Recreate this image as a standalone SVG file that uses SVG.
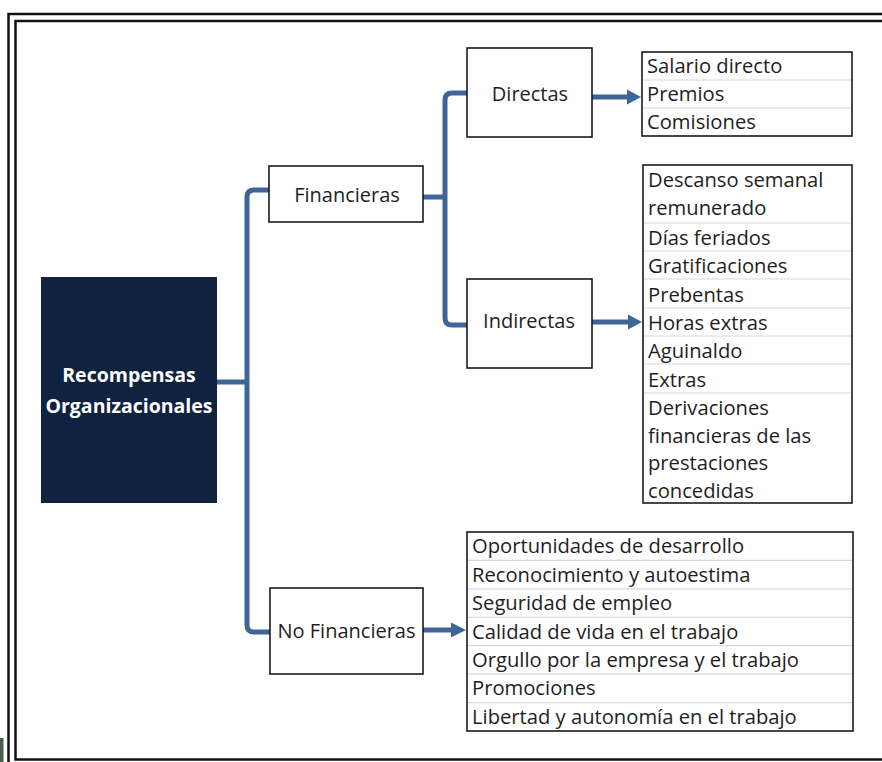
<svg xmlns="http://www.w3.org/2000/svg" width="882" height="762" viewBox="0 0 882 762">
<style>
.bg{fill:#ffffff}
.frame{fill:none;stroke:#111;stroke-width:2.5}
.box{fill:#ffffff;stroke:#1a1a1a;stroke-width:1.6}
.list{fill:#ffffff;stroke:#1a1a1a;stroke-width:1.6}
.sep{stroke:#d8d8d8;stroke-width:1.2}
.t{font-family:"Open Sans","Liberation Sans",sans-serif;font-size:20.2px;fill:#1e1e1e}
.n{font-family:"Open Sans","Liberation Sans",sans-serif;font-size:20px;fill:#1e1e1e;text-anchor:middle}
.root{font-family:"Open Sans","Liberation Sans",sans-serif;font-size:19.5px;font-weight:bold;fill:#ffffff;text-anchor:middle}
.c{fill:none;stroke:#3e6597;stroke-width:5;stroke-linejoin:round}
.ah{fill:#3e6597}
</style>
<rect class="bg" x="0" y="0" width="882" height="762"/>
<g id="frame">
<path class="frame" d="M 890 14 H 8.5 V 770"/>
<path class="frame" d="M 890 21 H 15.5 V 759.5 H 890"/>
<rect x="0" y="738" width="3.5" height="24" fill="#4d5b4d"/>
</g>
<g id="connectors">
<path class="c" d="M 217 382 H 247"/>
<path class="c" d="M 270 190 H 254 Q 247 190 247 197 V 625 Q 247 632 254 632 H 270"/>
<path class="c" d="M 423 197 H 445"/>
<path class="c" d="M 467 93 H 452 Q 445 93 445 100 V 318 Q 445 325 452 325 H 467"/>
<path class="c" d="M 592 97 H 628"/>
<polygon class="ah" points="627,89.5 641,97 627,104.5"/>
<path class="c" d="M 592 322 H 629"/>
<polygon class="ah" points="628,314.5 642,322 628,329.5"/>
<path class="c" d="M 423 630 H 452"/>
<polygon class="ah" points="451,622.5 466,630 451,637.5"/>
</g>
<g id="root">
<rect x="41" y="277" width="176" height="226" fill="#0f2341"/>
<text class="root" x="129" y="382">Recompensas</text>
<text class="root" x="129" y="413">Organizacionales</text>
</g>
<g id="financieras">
<rect class="box" x="269" y="166" width="154" height="56"/>
<text class="n" x="347" y="202">Financieras</text>
</g>
<g id="directas">
<rect class="box" x="467" y="48" width="125" height="89"/>
<text class="n" x="530" y="101">Directas</text>
</g>
<g id="indirectas">
<rect class="box" x="467" y="279" width="125" height="89"/>
<text class="n" x="529" y="328">Indirectas</text>
</g>
<g id="nofinancieras">
<rect class="box" x="270" y="588" width="153" height="86"/>
<text class="n" x="346.5" y="638">No Financieras</text>
</g>
<g id="list-directas">
<rect class="list" x="642" y="52" width="210" height="84"/>
<line class="sep" x1="643" y1="80" x2="851" y2="80"/>
<line class="sep" x1="643" y1="108" x2="851" y2="108"/>
<text class="t" x="647" y="73">Salario directo</text>
<text class="t" x="647" y="101">Premios</text>
<text class="t" x="647" y="129">Comisiones</text>
</g>
<g id="list-indirectas">
<rect class="list" x="643" y="165" width="209" height="338"/>
<line class="sep" x1="644" y1="223" x2="851" y2="223"/>
<line class="sep" x1="644" y1="251" x2="851" y2="251"/>
<line class="sep" x1="644" y1="279" x2="851" y2="279"/>
<line class="sep" x1="644" y1="308" x2="851" y2="308"/>
<line class="sep" x1="644" y1="336" x2="851" y2="336"/>
<line class="sep" x1="644" y1="364" x2="851" y2="364"/>
<line class="sep" x1="644" y1="393" x2="851" y2="393"/>
<text class="t" x="648" y="187">Descanso semanal</text>
<text class="t" x="648" y="215">remunerado</text>
<text class="t" x="648" y="245">Días feriados</text>
<text class="t" x="648" y="273">Gratificaciones</text>
<text class="t" x="648" y="302">Prebentas</text>
<text class="t" x="648" y="330">Horas extras</text>
<text class="t" x="648" y="358">Aguinaldo</text>
<text class="t" x="648" y="387">Extras</text>
<text class="t" x="648" y="415">Derivaciones</text>
<text class="t" x="648" y="443">financieras de las</text>
<text class="t" x="648" y="470">prestaciones</text>
<text class="t" x="648" y="498">concedidas</text>
</g>
<g id="list-nofinancieras">
<rect class="list" x="467" y="532" width="386" height="199"/>
<line class="sep" x1="468" y1="560.4" x2="852" y2="560.4"/>
<line class="sep" x1="468" y1="588.9" x2="852" y2="588.9"/>
<line class="sep" x1="468" y1="617.3" x2="852" y2="617.3"/>
<line class="sep" x1="468" y1="645.7" x2="852" y2="645.7"/>
<line class="sep" x1="468" y1="674.1" x2="852" y2="674.1"/>
<line class="sep" x1="468" y1="702.6" x2="852" y2="702.6"/>
<text class="t" x="472" y="553">Oportunidades de desarrollo</text>
<text class="t" x="472" y="582">Reconocimiento y autoestima</text>
<text class="t" x="472" y="610">Seguridad de empleo</text>
<text class="t" x="472" y="639">Calidad de vida en el trabajo</text>
<text class="t" x="472" y="667">Orgullo por la empresa y el trabajo</text>
<text class="t" x="472" y="695">Promociones</text>
<text class="t" x="472" y="724">Libertad y autonomía en el trabajo</text>
</g>
</svg>
